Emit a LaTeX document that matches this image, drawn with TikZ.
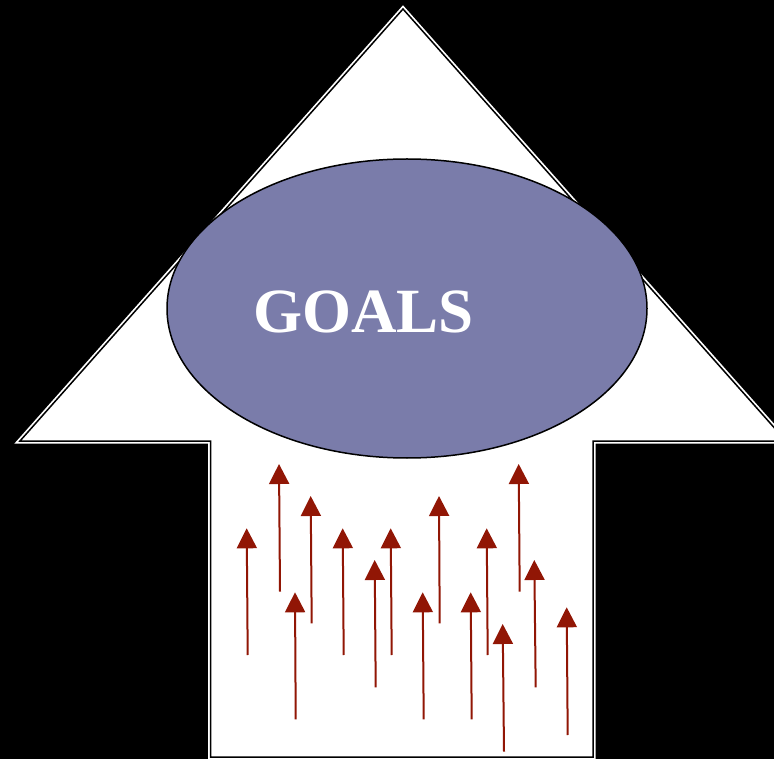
\documentclass[tikz,border=0pt]{standalone}
\usepackage{fontspec}
\setmainfont{Liberation Serif}
\usetikzlibrary{arrows.meta,shapes.geometric}
\definecolor{goalfill}{RGB}{122,124,170}
\definecolor{riser}{RGB}{145,22,5}
\tikzset{
  bigarrowpath/.style={line join=miter,miter limit=3},
  goal/.style={ellipse,draw=black,line width=1.5pt,fill=goalfill,minimum width=480pt,minimum height=299pt,inner sep=0pt},
  goaltext/.style={text=white,font=\bfseries\fontsize{63}{63}\selectfont,inner sep=0pt},
  rise/.style={draw=riser,line width=2pt,-{Triangle[width=20pt,length=20pt]}}
}
\begin{document}
\begin{tikzpicture}[x=1pt,y=-1pt]
\useasboundingbox (0,0) rectangle (774,759);
\fill[black] (0,0) rectangle (774,759);
\clip (0,0) rectangle (774,759);
% big arrow
\path[bigarrowpath,draw=white,line width=5pt,fill=white]
  (403,9) -- (786,441) -- (593,441) -- (593,757) -- (210.5,757) -- (210.5,441) -- (20,441) -- cycle;
\path[bigarrowpath,draw=black,line width=1.5pt]
  (403,9) -- (786,441) -- (593,441) -- (593,757) -- (210.5,757) -- (210.5,441) -- (20,441) -- cycle;
% goal ellipse
\node[goal] (goal) at (407,308.5) {};
\node[goaltext] (goaltxt) at (363.5,312) {GOALS};
% small rising arrows: tail -> tip
\foreach \n/\tx/\ty/\hx/\hy in {
  a/247.7/655/246.7/528.3,
  b/280/591.7/279/464,
  c/311.7/623.3/310.7/496,
  d/295.7/719.3/295/592.3,
  e/343.7/655/342.7/528.3,
  f/375.7/687.3/374.7/560,
  g/391.7/655/390.7/528.3,
  h/439.7/623.3/439/496,
  i/423.7/719.3/422.7/592.3,
  j/471.7/719.3/470.7/592.3,
  k/487.7/655/486.7/528.3,
  l/519.7/591.7/518.7/464,
  m/504/751.7/502.7/624,
  o/535.7/687.3/534.3/560,
  p/567.7/735/566.7/607.3}{
  \coordinate (t\n) at (\tx,\ty);
  \coordinate (h\n) at (\hx,\hy);
  \draw[rise] (t\n) -- (h\n);
}
\end{tikzpicture}
\end{document}
